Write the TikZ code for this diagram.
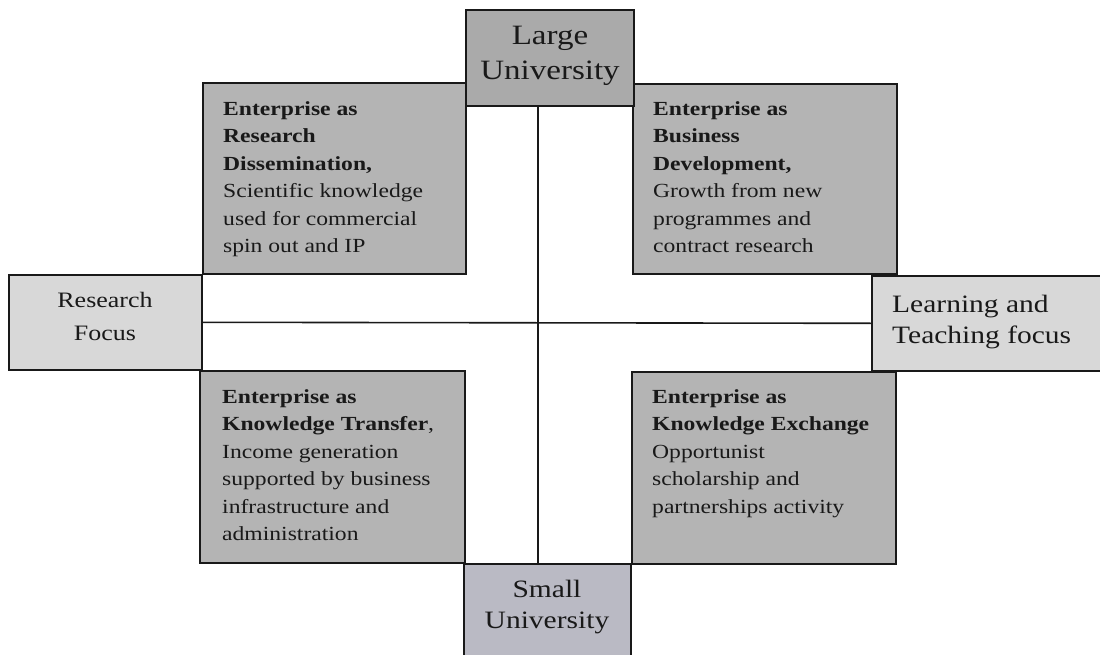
\documentclass[tikz,border=0pt]{standalone}
\usepackage{fontspec}
\setmainfont[FakeStretch=1.18]{Liberation Serif}
\definecolor{cornerfill}{RGB}{180,180,180}
\definecolor{largefill}{RGB}{170,170,170}
\definecolor{sidefill}{RGB}{216,216,216}
\definecolor{smallfill}{RGB}{186,186,196}
\definecolor{ink}{RGB}{25,25,25}
\tikzset{
  box/.style={draw=ink, line width=1.6pt, rectangle, inner sep=0pt, anchor=north west},
  cornertext/.style={anchor=base west, align=left, inner sep=0pt, text=ink,
    font=\fontsize{20}{27.5}\selectfont},
  crossline/.style={draw=ink, line width=1.6pt}
}
\begin{document}
\begin{tikzpicture}[x=1pt,y=-1pt]
\useasboundingbox (0,0) rectangle (1100,655);
\clip (0,0) rectangle (1100,655);
% boxes
\node[box, fill=cornerfill, minimum width=263pt, minimum height=191pt] (tl) at (202,82) {};
\node[box, fill=cornerfill, minimum width=264pt, minimum height=190pt] (tr) at (632,83) {};
\node[box, fill=cornerfill, minimum width=265pt, minimum height=192pt] (bl) at (199,370) {};
\node[box, fill=cornerfill, minimum width=264pt, minimum height=192pt] (br) at (631,371) {};
\node[box, fill=largefill, minimum width=168pt, minimum height=96pt] (large) at (465,9) {};
\node[box, fill=smallfill, minimum width=167pt, minimum height=110pt] (small) at (463,563) {};
\node[box, fill=sidefill, minimum width=193pt, minimum height=95pt] (research) at (8,274) {};
\node[box, fill=sidefill, minimum width=240pt, minimum height=95pt] (learning) at (871,275) {};
% cross lines
\draw[crossline] (research.east) -- (learning.west);
\draw[crossline] ([xshift=-12pt]large.south) -- ([xshift=-9.5pt]small.north);
% texts (base anchor = baseline of last line)
\node[anchor=base, align=center, inner sep=0pt, text=ink, font=\fontsize{28}{35}\selectfont] (largetxt) at (550,80) {Large\\University};
\node[anchor=base, align=center, inner sep=0pt, text=ink, font=\fontsize{25}{31}\selectfont] (smalltxt) at (547,628) {Small\\University};
\node[anchor=base, align=center, inner sep=0pt, text=ink, font=\fontsize{22}{33}\selectfont] (researchtxt) at (105,340) {Research\\Focus};
\node[anchor=base west, align=left, inner sep=0pt, text=ink, font=\fontsize{25}{31}\selectfont] (learningtxt) at (892,343) {Learning and\\Teaching focus};
\node[cornertext] (tltxt) at (223,252.5) {\textbf{Enterprise as}\\\textbf{Research}\\\textbf{Dissemination,}\\Scientific knowledge\\used for commercial\\spin out and IP};
\node[cornertext] (trtxt) at (653,252.5) {\textbf{Enterprise as}\\\textbf{Business}\\\textbf{Development,}\\Growth from new\\programmes and\\contract research};
\node[cornertext] (bltxt) at (222,540.5) {\textbf{Enterprise as}\\\textbf{Knowledge Transfer},\\Income generation\\supported by business\\infrastructure and\\administration};
\node[cornertext] (brtxt) at (652,513) {\textbf{Enterprise as}\\\textbf{Knowledge Exchange}\\Opportunist\\scholarship and\\partnerships activity};
\end{tikzpicture}
\end{document}
